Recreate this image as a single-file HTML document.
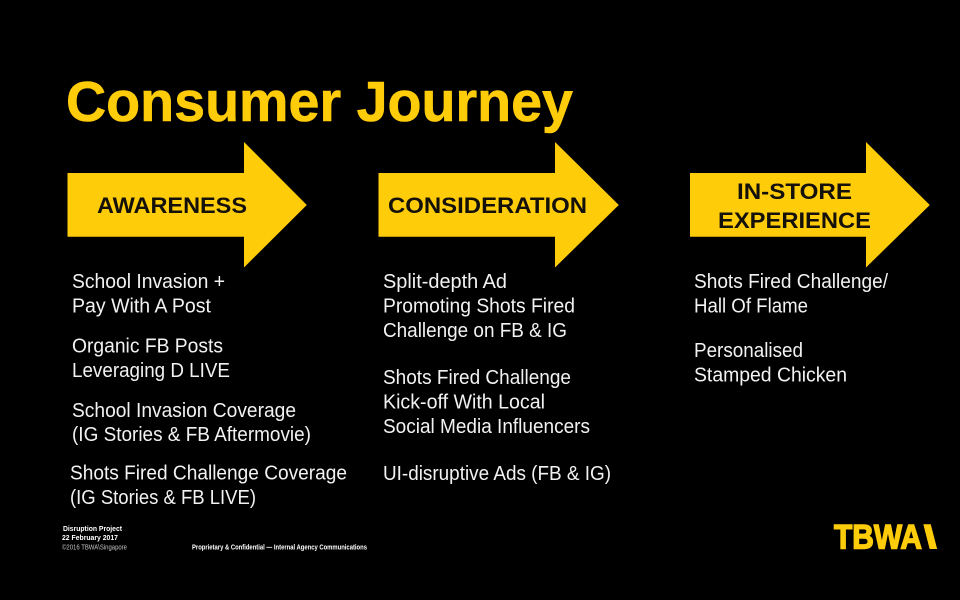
<!DOCTYPE html>
<html lang="en">
<head>
<meta charset="utf-8">
<title>Consumer Journey</title>
<style>
html,body{margin:0;padding:0;background:#000;width:960px;height:600px;overflow:hidden}
svg{display:block}
text{font-family:"Liberation Sans",Arial,sans-serif}
.b{fill:#f2f2f2;font-size:20px}
.l{fill:#14110a;font-size:22.5px;font-weight:bold}
.f{fill:#fff;font-size:7.5px;font-weight:bold}
</style>
</head>
<body>
<svg width="960" height="600" viewBox="0 0 960 600" xmlns="http://www.w3.org/2000/svg">
<defs><clipPath id="c"><rect x="920" y="523.3" width="20" height="25.7"/></clipPath></defs>
<rect width="960" height="600" fill="#000"/>
<text x="66" y="121" fill="#FFCC0A" stroke="#FFCC0A" stroke-width="0.6" font-size="57" font-weight="bold" textLength="507" lengthAdjust="spacingAndGlyphs">Consumer Journey</text>

<polygon fill="#FFCC0A" points="67.5,173 244,173 244,142 306.8,205 244,267.5 244,236.7 67.5,236.7"/>
<polygon fill="#FFCC0A" points="378.5,173 555,173 555,142 618.8,205 555,267.5 555,236.7 378.5,236.7"/>
<polygon fill="#FFCC0A" points="690,173 866,173 866,142 929.8,205 866,267.5 866,236.7 690,236.7"/>

<text class="l" x="97" y="213" textLength="150" lengthAdjust="spacingAndGlyphs">AWARENESS</text>
<text class="l" x="388" y="213" textLength="199" lengthAdjust="spacingAndGlyphs">CONSIDERATION</text>
<text class="l" x="737" y="199" textLength="115" lengthAdjust="spacingAndGlyphs">IN-STORE</text>
<text class="l" x="718" y="228" textLength="153" lengthAdjust="spacingAndGlyphs">EXPERIENCE</text>

<text class="b" x="72" y="288" textLength="153" lengthAdjust="spacingAndGlyphs">School Invasion +</text>
<text class="b" x="72" y="312.5" textLength="139" lengthAdjust="spacingAndGlyphs">Pay With A Post</text>
<text class="b" x="72" y="352.5" textLength="151" lengthAdjust="spacingAndGlyphs">Organic FB Posts</text>
<text class="b" x="72" y="377" textLength="158" lengthAdjust="spacingAndGlyphs">Leveraging D LIVE</text>
<text class="b" x="72" y="417" textLength="224" lengthAdjust="spacingAndGlyphs">School Invasion Coverage</text>
<text class="b" x="72" y="441" textLength="239" lengthAdjust="spacingAndGlyphs">(IG Stories &amp; FB Aftermovie)</text>
<text class="b" x="70" y="479.5" textLength="277" lengthAdjust="spacingAndGlyphs">Shots Fired Challenge Coverage</text>
<text class="b" x="70" y="504" textLength="186" lengthAdjust="spacingAndGlyphs">(IG Stories &amp; FB LIVE)</text>

<text class="b" x="383" y="288" textLength="124" lengthAdjust="spacingAndGlyphs">Split-depth Ad</text>
<text class="b" x="383" y="312.5" textLength="192" lengthAdjust="spacingAndGlyphs">Promoting Shots Fired</text>
<text class="b" x="383" y="337" textLength="184" lengthAdjust="spacingAndGlyphs">Challenge on FB &amp; IG</text>
<text class="b" x="383" y="384" textLength="188" lengthAdjust="spacingAndGlyphs">Shots Fired Challenge</text>
<text class="b" x="383" y="408.5" textLength="162" lengthAdjust="spacingAndGlyphs">Kick-off With Local</text>
<text class="b" x="383" y="433" textLength="207" lengthAdjust="spacingAndGlyphs">Social Media Influencers</text>
<text class="b" x="383" y="480" textLength="228" lengthAdjust="spacingAndGlyphs">UI-disruptive Ads (FB &amp; IG)</text>

<text class="b" x="694" y="288" textLength="194" lengthAdjust="spacingAndGlyphs">Shots Fired Challenge/</text>
<text class="b" x="694" y="312.5" textLength="114" lengthAdjust="spacingAndGlyphs">Hall Of Flame</text>
<text class="b" x="694" y="357" textLength="109" lengthAdjust="spacingAndGlyphs">Personalised</text>
<text class="b" x="694" y="381.5" textLength="153" lengthAdjust="spacingAndGlyphs">Stamped Chicken</text>

<text class="f" x="63" y="531" textLength="59" lengthAdjust="spacingAndGlyphs">Disruption Project</text>
<text class="f" x="62" y="540" textLength="56" lengthAdjust="spacingAndGlyphs">22 February 2017</text>
<text x="62" y="549.5" fill="#c4c4c4" font-size="7.5" textLength="65" lengthAdjust="spacingAndGlyphs">©2016 TBWA\Singapore</text>
<text class="f" x="192" y="549.5" textLength="175" lengthAdjust="spacingAndGlyphs">Proprietary &amp; Confidential — Internal Agency Communications</text>

<text x="834" y="548.4" fill="#FFCC0A" stroke="#FFCC0A" stroke-width="1.4" font-size="34" font-weight="bold" textLength="88" lengthAdjust="spacingAndGlyphs">TBWA</text>
<text clip-path="url(#c)" x="924" y="550" fill="#FFCC0A" stroke="#FFCC0A" stroke-width="1.4" font-size="34" font-weight="bold" textLength="13" lengthAdjust="spacingAndGlyphs">\</text>
</svg>
</body>
</html>
